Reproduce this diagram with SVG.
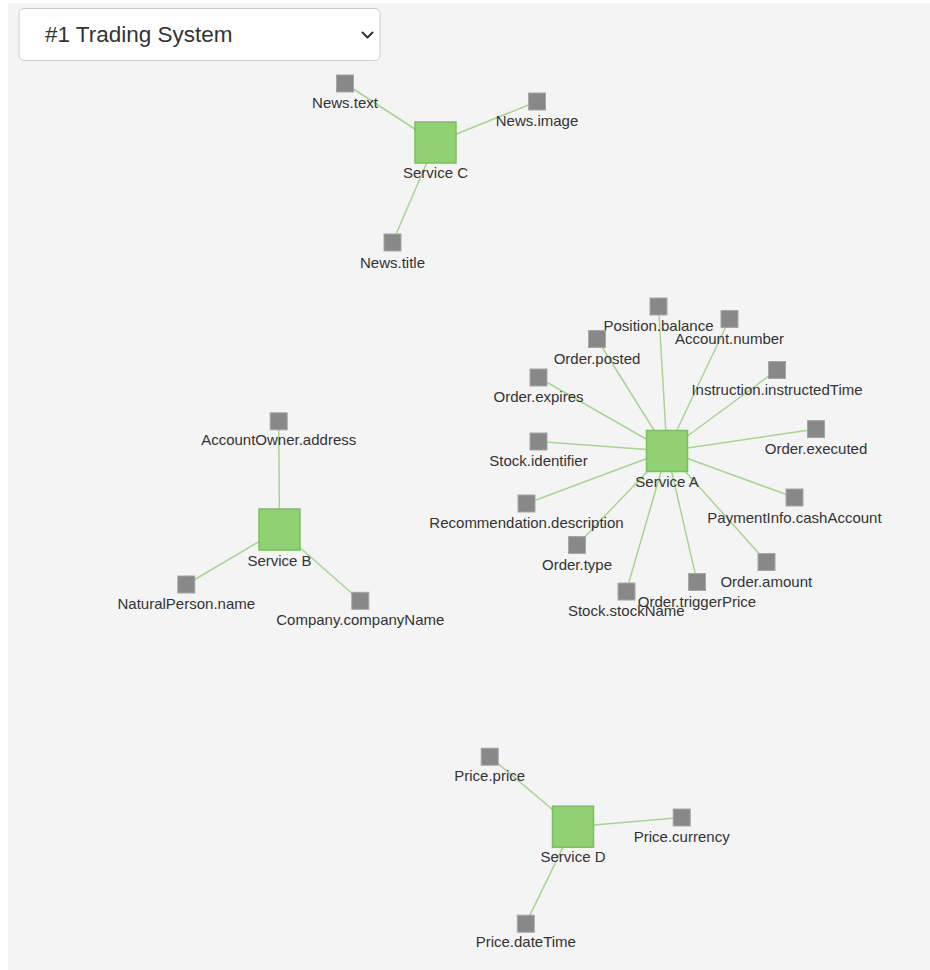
<svg xmlns="http://www.w3.org/2000/svg" width="930" height="970" viewBox="0 0 930 970">
<style>
.bg{fill:#f4f4f4}
.sel{fill:#ffffff;stroke:#cccccc;stroke-width:1}
.selt{font-family:"Liberation Sans",Arial,sans-serif;font-size:22.5px;fill:#333333}
.chev{fill:none;stroke:#333333;stroke-width:2;stroke-linecap:round;stroke-linejoin:round}
.link{stroke:#a6d68f;stroke-width:1.5;fill:none}
.svc{fill:#90d174;stroke:#79bf5c;stroke-width:1.5}
.attr{fill:#888888;stroke:#a6a6a6;stroke-width:1}
.lbl{font-family:"Liberation Sans",Arial,sans-serif;font-size:15px;fill:#333333;text-anchor:middle}
</style>
<rect class="bg" x="8" y="3" width="922" height="967"/>
<g id="selector">
<rect class="sel" x="19" y="8.5" width="361" height="52" rx="5"/>
<text class="selt" x="45" y="42">#1 Trading System</text>
<path class="chev" d="M362.5 32.5 L367.5 37.5 L372.5 32.5"/>
</g>
<g id="connectors">
<line class="link" x1="435.5" y1="142.5" x2="345" y2="83.5"/>
<line class="link" x1="435.5" y1="142.5" x2="537" y2="101.5"/>
<line class="link" x1="435.5" y1="142.5" x2="392.5" y2="242.5"/>
<line class="link" x1="667" y1="451" x2="658.5" y2="306.5"/>
<line class="link" x1="667" y1="451" x2="729.5" y2="319"/>
<line class="link" x1="667" y1="451" x2="597" y2="339"/>
<line class="link" x1="667" y1="451" x2="777" y2="370"/>
<line class="link" x1="667" y1="451" x2="538.5" y2="377.5"/>
<line class="link" x1="667" y1="451" x2="816" y2="429"/>
<line class="link" x1="667" y1="451" x2="538.5" y2="441.5"/>
<line class="link" x1="667" y1="451" x2="526.5" y2="503.5"/>
<line class="link" x1="667" y1="451" x2="794.5" y2="497.5"/>
<line class="link" x1="667" y1="451" x2="577" y2="545"/>
<line class="link" x1="667" y1="451" x2="766.3" y2="561.7"/>
<line class="link" x1="667" y1="451" x2="697" y2="581.7"/>
<line class="link" x1="667" y1="451" x2="626.3" y2="591.3"/>
<line class="link" x1="279.5" y1="529.5" x2="278.7" y2="421.3"/>
<line class="link" x1="279.5" y1="529.5" x2="186.3" y2="584.5"/>
<line class="link" x1="279.5" y1="529.5" x2="360.3" y2="600.8"/>
<line class="link" x1="573" y1="826.7" x2="489.7" y2="756.7"/>
<line class="link" x1="573" y1="826.7" x2="681.7" y2="817.5"/>
<line class="link" x1="573" y1="826.7" x2="525.8" y2="923.7"/>
</g>
<g id="service-c"><rect class="svc" x="415" y="122" width="41" height="41"/><text class="lbl" x="435.5" y="178">Service C</text></g>
<g id="news-text"><rect class="attr" x="336.5" y="75" width="17" height="17"/><text class="lbl" x="345" y="108">News.text</text></g>
<g id="news-image"><rect class="attr" x="528.5" y="93" width="17" height="17"/><text class="lbl" x="537" y="126">News.image</text></g>
<g id="news-title"><rect class="attr" x="384" y="234" width="17" height="17"/><text class="lbl" x="392.5" y="267.5">News.title</text></g>

<g id="service-a"><rect class="svc" x="646.5" y="430.5" width="41" height="41"/><text class="lbl" x="667" y="486.5">Service A</text></g>
<g id="position-balance"><rect class="attr" x="650" y="298" width="17" height="17"/><text class="lbl" x="658.5" y="331">Position.balance</text></g>
<g id="account-number"><rect class="attr" x="721" y="310.5" width="17" height="17"/><text class="lbl" x="729.5" y="344">Account.number</text></g>
<g id="order-posted"><rect class="attr" x="588.5" y="330.5" width="17" height="17"/><text class="lbl" x="597" y="363.5">Order.posted</text></g>
<g id="instruction-instructedtime"><rect class="attr" x="768.5" y="361.5" width="17" height="17"/><text class="lbl" x="777" y="394.5">Instruction.instructedTime</text></g>
<g id="order-expires"><rect class="attr" x="530" y="369" width="17" height="17"/><text class="lbl" x="538.5" y="402">Order.expires</text></g>
<g id="order-executed"><rect class="attr" x="807.5" y="420.5" width="17" height="17"/><text class="lbl" x="816" y="454">Order.executed</text></g>
<g id="stock-identifier"><rect class="attr" x="530" y="433" width="17" height="17"/><text class="lbl" x="538.5" y="466">Stock.identifier</text></g>
<g id="recommendation-description"><rect class="attr" x="518" y="495" width="17" height="17"/><text class="lbl" x="526.5" y="527.5">Recommendation.description</text></g>
<g id="paymentinfo-cashaccount"><rect class="attr" x="786" y="489" width="17" height="17"/><text class="lbl" x="794.5" y="522.5">PaymentInfo.cashAccount</text></g>
<g id="order-type"><rect class="attr" x="568.5" y="536.5" width="17" height="17"/><text class="lbl" x="577" y="570">Order.type</text></g>
<g id="order-amount"><rect class="attr" x="758" y="553.5" width="17" height="17"/><text class="lbl" x="766.3" y="586.5">Order.amount</text></g>
<g id="order-triggerprice"><rect class="attr" x="688.5" y="573.5" width="17" height="17"/><text class="lbl" x="697" y="606.5">Order.triggerPrice</text></g>
<g id="stock-stockname"><rect class="attr" x="618" y="583" width="17" height="17"/><text class="lbl" x="626.3" y="616">Stock.stockName</text></g>

<g id="service-b"><rect class="svc" x="259" y="509" width="41" height="41"/><text class="lbl" x="279.5" y="565.5">Service B</text></g>
<g id="accountowner-address"><rect class="attr" x="270.2" y="412.8" width="17" height="17"/><text class="lbl" x="278.7" y="445">AccountOwner.address</text></g>
<g id="naturalperson-name"><rect class="attr" x="177.8" y="576" width="17" height="17"/><text class="lbl" x="186.3" y="609">NaturalPerson.name</text></g>
<g id="company-companyname"><rect class="attr" x="351.8" y="592.3" width="17" height="17"/><text class="lbl" x="360.3" y="624.5">Company.companyName</text></g>

<g id="service-d"><rect class="svc" x="552.5" y="806.2" width="41" height="41"/><text class="lbl" x="573" y="862.3">Service D</text></g>
<g id="price-price"><rect class="attr" x="481.2" y="748.2" width="17" height="17"/><text class="lbl" x="489.7" y="780.5">Price.price</text></g>
<g id="price-currency"><rect class="attr" x="673.2" y="809" width="17" height="17"/><text class="lbl" x="681.7" y="841.5">Price.currency</text></g>
<g id="price-datetime"><rect class="attr" x="517.3" y="915.2" width="17" height="17"/><text class="lbl" x="525.8" y="947">Price.dateTime</text></g>
</svg>
